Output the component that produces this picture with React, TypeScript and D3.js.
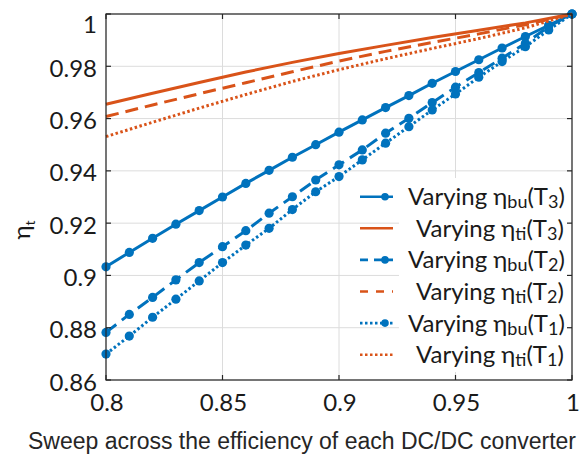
import React from 'react';
import * as d3 from 'd3';

// sweep points (efficiency of each DC/DC converter)
const sweep = [0.8, 0.81, 0.82, 0.83, 0.84, 0.85, 0.86, 0.87, 0.88, 0.89, 0.9,
  0.91, 0.92, 0.93, 0.94, 0.95, 0.96, 0.97, 0.98, 0.99, 1.0];
const buT3 = [0.9033, 0.9088, 0.9142, 0.9196, 0.9248, 0.93, 0.9352, 0.9402, 0.9452, 0.95, 0.9548,
  0.9595, 0.9642, 0.9688, 0.9735, 0.978, 0.9825, 0.987, 0.9914, 0.9957, 1.0];
const buT2 = [0.8782, 0.8851, 0.8916, 0.8983, 0.9049, 0.911, 0.9171, 0.9238, 0.9301, 0.9365, 0.9423,
  0.948, 0.9544, 0.9601, 0.9661, 0.972, 0.9776, 0.9831, 0.9888, 0.9952, 1.0];
const buT1 = [0.8699, 0.8768, 0.884, 0.8909, 0.8979, 0.9049, 0.9116, 0.918, 0.9252, 0.932, 0.9378,
  0.9442, 0.9506, 0.9569, 0.9633, 0.9694, 0.9758, 0.9818, 0.9875, 0.9939, 1.0];

const sweepCoarse = [0.8, 0.82, 0.84, 0.86, 0.88, 0.9, 0.92, 0.94, 0.96, 0.98, 1.0];
const tiT3 = [0.9655, 0.9697, 0.9738, 0.9778, 0.9815, 0.9849, 0.988, 0.991, 0.9938, 0.9966, 1.0];
const tiT2 = [0.9608, 0.9652, 0.9695, 0.9737, 0.9779, 0.982, 0.9857, 0.9891, 0.9924, 0.9959, 1.0];
const tiT1 = [0.9531, 0.9586, 0.964, 0.9692, 0.9742, 0.9787, 0.9829, 0.9868, 0.9906, 0.9947, 1.0];

const xTicks = [0.8, 0.85, 0.9, 0.95, 1];
const xTickLabels = ['0.8', '0.85', '0.9', '0.95', '1'];
const yTicks = [0.86, 0.88, 0.9, 0.92, 0.94, 0.96, 0.98, 1];
const yTickLabels = ['0.86', '0.88', '0.9', '0.92', '0.94', '0.96', '0.98', '1'];

const BLUE = '#0072BD';
const ORANGE = '#D95319';

const series = [
  { name: 'bu', t: '3', x: sweep, y: buT3, color: BLUE, dash: null, legDash: null, marker: true },
  { name: 'ti', t: '3', x: sweepCoarse, y: tiT3, color: ORANGE, dash: null, legDash: null, marker: false },
  { name: 'bu', t: '2', x: sweep, y: buT2, color: BLUE, dash: '13,7', legDash: '8,6', marker: true },
  { name: 'ti', t: '2', x: sweepCoarse, y: tiT2, color: ORANGE, dash: '13,7', legDash: '8,8', marker: false },
  { name: 'bu', t: '1', x: sweep, y: buT1, color: BLUE, dash: '2.5,2.5', legDash: '2.5,2.5', marker: true },
  { name: 'ti', t: '1', x: sweepCoarse, y: tiT1, color: ORANGE, dash: '2.5,2.5', legDash: '2.5,2.5', marker: false },
];

const App = () => {
  const width = 580;
  const height = 454;
  const margin = { top: 14, right: 8, bottom: 74, left: 106 };
  const left = margin.left, right = width - margin.right;
  const top = margin.top, bottom = height - margin.bottom;

  const x = d3.scaleLinear().domain([0.8, 1]).range([left, right]);
  const y = d3.scaleLinear().domain([0.86, 1]).range([bottom, top]);

  const font = 'Lato, "Open Sans", sans-serif';
  const ink = '#1a1a1a';

  // legend layout
  const rowY = (i: number) => 196.7 + i * 31.6;

  return (
    <svg width={width} height={height} style={{ position: 'absolute', left: 0, top: 0, background: '#fff' }}>
      <rect x={0} y={0} width={width} height={height} fill="#fff" />
      {/* grid */}
      {xTicks.map(t => (
        <line key={'gx' + t} x1={x(t)} x2={x(t)} y1={top} y2={bottom} stroke="#dcdcdc" strokeWidth={1} />
      ))}
      {yTicks.map(t => (
        <line key={'gy' + t} x1={left} x2={right} y1={y(t)} y2={y(t)} stroke="#dcdcdc" strokeWidth={1} />
      ))}

      {/* legend background (text box) */}
      <rect x={399} y={178} width={170} height={194} fill="#fff" />

      {/* series */}
      {series.map((s, k) => {
        const path = d3.line<number>()
          .x((d, i) => x(s.x[i]))
          .y(d => y(d))(s.y);
        return (
          <g key={'s' + k}>
            <path d={path || ''} fill="none" stroke={s.color} strokeWidth={3}
              strokeDasharray={s.dash || undefined} strokeLinejoin="round" />
            {s.marker && s.y.map((v, i) => (
              <circle key={i} cx={x(s.x[i])} cy={y(v)} r={4.6} fill={s.color} />
            ))}
          </g>
        );
      })}

      {/* axes box & ticks */}
      <rect x={left} y={top} width={right - left} height={bottom - top} fill="none" stroke="#262626" strokeWidth={1.2} />
      {xTicks.map(t => (
        <g key={'tx' + t}>
          <line x1={x(t)} x2={x(t)} y1={bottom} y2={bottom - 5} stroke="#262626" strokeWidth={1.2} />
          <line x1={x(t)} x2={x(t)} y1={top} y2={top + 5} stroke="#262626" strokeWidth={1.2} />
        </g>
      ))}
      {yTicks.map(t => (
        <g key={'ty' + t}>
          <line x1={left} x2={left + 5} y1={y(t)} y2={y(t)} stroke="#262626" strokeWidth={1.2} />
          <line x1={right} x2={right - 5} y1={y(t)} y2={y(t)} stroke="#262626" strokeWidth={1.2} />
        </g>
      ))}
      {xTicks.map((t, i) => (
        <text key={'lx' + t} x={x(t) + 1} y={410.5} textAnchor="middle" fontFamily={font} fontSize={24} fill={ink}>
          {xTickLabels[i]}
        </text>
      ))}
      {yTicks.map((t, i) => (
        <text key={'ly' + t} x={97} y={t === 1 ? 33 : y(t) + 10.5} textAnchor="end" fontFamily={font} fontSize={24} fill={ink}>
          {yTickLabels[i]}
        </text>
      ))}

      {/* axis labels */}
      <text x={302} y={449} textAnchor="middle" fontFamily='"Liberation Sans", Arial, sans-serif' fontSize={23} fill="#262626">
        Sweep across the efficiency of each DC/DC converter
      </text>
      <text transform="translate(30,230) rotate(-90)" textAnchor="middle" fontFamily={font} fontSize={24} fill={ink}>
        η<tspan fontSize={14} dy={5}>t</tspan>
      </text>

      {/* legend */}
      {series.map((s, i) => {
        const cy = rowY(i);
        const tx = s.color === BLUE ? 408 : 416;
        return (
          <g key={'leg' + i}>
            <line x1={360} x2={393} y1={cy} y2={cy} stroke={s.color} strokeWidth={2.6}
              strokeDasharray={s.legDash || undefined} />
            {s.marker && <circle cx={385} cy={cy} r={3.8} fill={s.color} />}
            <text x={tx} y={cy + 8.5} fontFamily={font} fontSize={24} fill={ink}>
              Varying η<tspan fontSize={18} dy={3}>{s.name}</tspan>
              <tspan dy={-3}>(T</tspan>
              <tspan fontSize={18} dy={3}>{s.t}</tspan>
              <tspan dy={-3}>)</tspan>
            </text>
          </g>
        );
      })}
    </svg>
  );
};

export default App;
